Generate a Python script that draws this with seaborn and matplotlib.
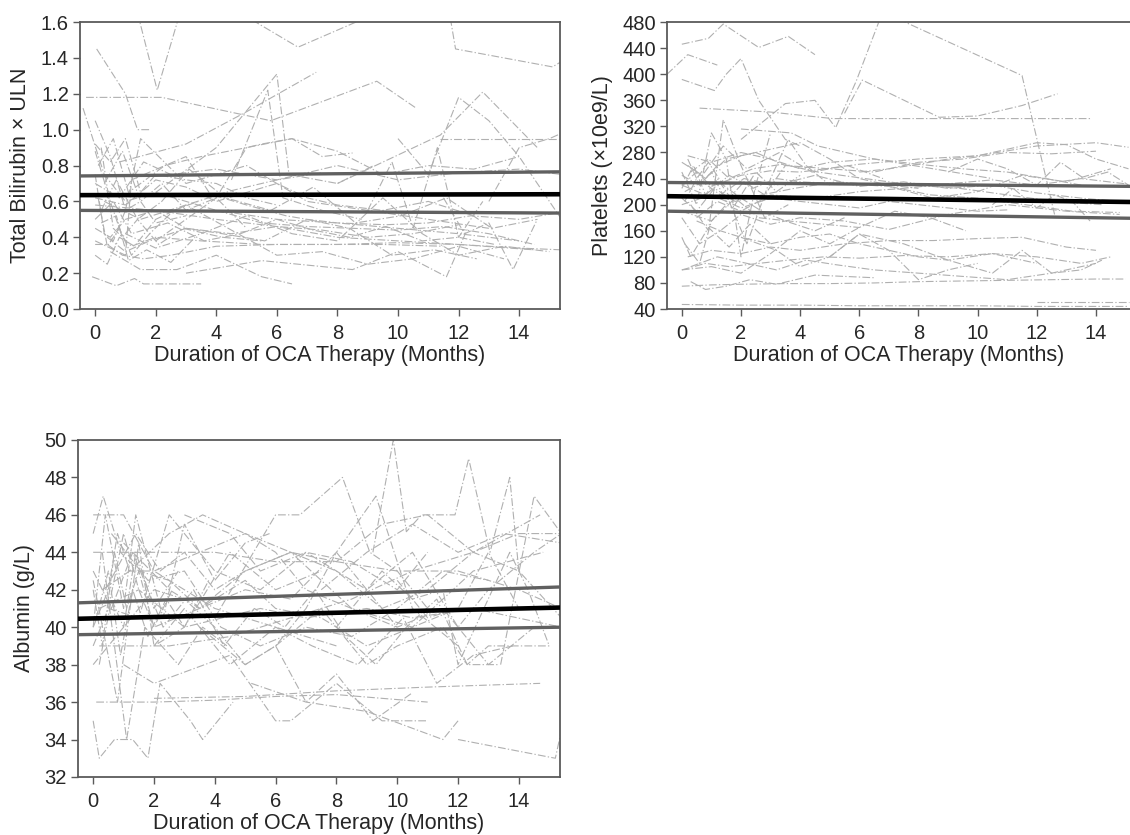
import numpy as np
import pandas as pd
import matplotlib
matplotlib.use("Agg")
import matplotlib.pyplot as plt
import seaborn as sns

# ---------------- data ----------------
bili_t = [
    [1.4, 2.05, 2.8],
    [0.05, 1.0, 1.4, 1.8],
    [-0.3, 2.2, 5.8, 9.3, 10.6],
    [4.8, 6.7, 9.3, 11.7, 11.9, 15.1, 15.4],
    [0.8, 3.0, 5.0, 7.3],
    [2.0, 4.0, 6.0, 6.4, 8.0, 9.2],
    [4.5, 5.7, 6.2, 7.5, 8.8],
    [8.0, 11.4, 12.8, 14.6],
    [11.4, 15.3],
    [-0.4, 0.3, 1.0, 2.0, 4.0, 6.0, 8.0, 10.0, 12.0, 14.0],
    [0.0, 0.5, 1.0, 1.5, 3.0, 5.0, 7.0, 9.0, 11.0, 13.0],
    [0.2, 0.6, 1.2, 2.0, 3.5, 5.5, 7.5, 9.5, 11.5],
    [0.0, 0.4, 0.9, 1.6, 2.5, 4.0, 6.0, 8.0, 10.0, 12.0, 14.5],
    [-0.1, 0.7, 1.3, 1.6, 2.4, 3.5],
    [0.5, 1.5, 2.7, 4.0, 5.5, 6.5],
    [3.0, 5.5, 8.5, 10.0, 11.6, 12.3],
    [0.0, 1.0, 2.0, 3.0, 4.0, 5.0, 6.0, 7.0, 8.0, 9.5, 11.0, 12.5],
    [0.1, 0.6, 1.1, 2.3, 3.5, 5.0, 6.5, 8.0, 9.5, 11.0, 12.5, 14.0],
    [0.0, 0.5, 1.0, 2.0, 3.0, 4.5, 6.0, 7.5, 9.0, 10.5, 12.0],
    [0.2, 0.7, 1.4, 2.2, 3.1, 4.3, 5.8, 7.2, 8.6, 10.1, 11.6, 13.1, 14.6],
    [0.0, 0.8, 1.6, 2.5, 4.0, 6.0, 8.0, 10.0, 12.0, 14.0, 15.4],
    [0.4, 1.0, 1.8, 3.0, 4.2, 5.6, 7.0, 8.4, 9.8, 11.2, 12.6],
    [0.0, 0.6, 1.2, 2.4, 3.6, 4.8, 6.0, 7.2, 8.4, 9.6, 10.8, 12.0, 13.2],
    [1.0, 2.0, 3.5, 5.0, 6.5, 8.0, 9.5, 10.8, 12.0, 13.5, 15.0],
    [0.3, 1.5, 3.0, 4.5, 6.0, 7.5, 9.0, 10.5, 12.0, 13.5],
    [11.5, 12.2, 13.0, 13.8, 14.6],
    [9.0, 9.8, 10.5, 11.3, 12.0, 12.8],
    [0.0, 0.5, 1.0, 1.5, 2.0, 3.0, 4.0, 5.0, 6.0],
    [2.0, 3.0, 4.0, 5.0, 5.5, 6.5, 7.5, 8.5],
    [0.0, 1.0, 1.2, 3.0, 3.8, 5.0, 6.3, 7.0, 8.0, 9.6, 11.0, 12.4, 14.0, 15.4],
    [4.0, 5.5, 7.0, 8.5, 10.0, 11.5, 13.0, 14.5],
    [0.0, 2.0, 4.0, 6.0, 8.0, 10.0, 12.0, 14.0, 15.4],
    [13.0, 14.0, 15.0, 15.4],
    [10.0, 11.0, 12.0, 13.0, 14.0, 15.4],
    [0.0, 0.3, 0.6, 1.0, 1.5, 2.0, 3.0],
    [0.1, 0.4, 0.8, 1.2, 1.8, 2.6, 3.4],
    [0.0, 0.5, 0.9, 1.4, 2.1, 2.9, 4.2, 5.5],
    [0.2, 0.7, 1.1, 1.7, 2.5, 3.3],
    [0.0, 0.4, 0.8, 1.3, 2.0, 3.0, 4.5, 6.0, 7.5],
    [0.3, 0.9, 1.5, 2.2, 3.0, 4.0, 5.0],
]
bili_v = [
    [1.65, 1.22, 1.65],
    [1.45, 1.2, 1.0, 1.0],
    [1.18, 1.18, 1.05, 1.27, 1.12],
    [1.65, 1.46, 1.65, 1.65, 1.45, 1.35, 1.38],
    [0.82, 0.92, 1.1, 1.32],
    [0.65, 0.9, 1.31, 0.75, 0.7, 0.8],
    [0.72, 1.22, 0.62, 0.55, 0.5],
    [0.7, 0.97, 1.21, 0.9],
    [0.95, 0.95],
    [1.12, 0.75, 0.6, 0.65, 0.55, 0.5, 0.48, 0.45, 0.42, 0.38],
    [1.05, 0.85, 0.55, 0.95, 0.7, 0.8, 0.6, 0.55, 0.5, 0.45],
    [0.9, 0.45, 0.35, 0.4, 0.38, 0.36, 0.36, 0.36, 0.35],
    [0.36, 0.36, 0.3, 0.28, 0.3, 0.35, 0.36, 0.36, 0.37, 0.36, 0.33],
    [0.18, 0.13, 0.17, 0.14, 0.14, 0.14],
    [0.32, 0.22, 0.22, 0.3, 0.18, 0.14],
    [0.2, 0.27, 0.22, 0.32, 0.18, 0.45],
    [0.62, 0.58, 0.72, 0.68, 0.6, 0.65, 0.7, 0.62, 0.58, 0.55, 0.6, 0.52],
    [0.8, 0.95, 0.65, 0.8, 0.85, 0.9, 0.95, 0.88, 0.75, 0.8, 0.78, 0.85],
    [0.45, 0.4, 0.5, 0.55, 0.45, 0.42, 0.46, 0.44, 0.4, 0.42, 0.47],
    [0.55, 0.72, 0.5, 0.6, 0.78, 0.62, 0.55, 0.68, 0.48, 0.52, 0.62, 0.45, 0.5],
    [0.7, 0.62, 0.82, 0.75, 0.78, 0.72, 0.8, 0.72, 0.76, 0.78, 0.75],
    [0.4, 0.32, 0.38, 0.45, 0.42, 0.38, 0.5, 0.45, 0.3, 0.33, 0.28],
    [0.5, 0.6, 0.42, 0.48, 0.38, 0.42, 0.5, 0.44, 0.4, 0.46, 0.38, 0.4, 0.36],
    [0.42, 0.34, 0.42, 0.52, 0.42, 0.38, 0.62, 0.42, 0.3, 0.35, 0.32],
    [0.6, 0.5, 0.58, 0.44, 0.3, 0.32, 0.25, 0.28, 0.35, 0.28],
    [0.62, 0.42, 0.48, 0.22, 0.5],
    [0.55, 0.82, 0.45, 0.9, 0.4, 0.6],
    [0.92, 0.82, 0.95, 0.65, 0.75, 0.72, 0.7, 0.62, 0.58],
    [0.38, 0.5, 0.62, 0.9, 0.92, 0.95, 0.85, 0.87],
    [0.38, 0.3, 0.72, 0.85, 0.64, 0.58, 0.52, 0.5, 0.48, 0.47, 0.48, 0.52, 0.5, 0.54],
    [0.55, 0.48, 0.46, 0.45, 0.44, 0.46, 0.42, 0.36],
    [0.58, 0.55, 0.5, 0.46, 0.4, 0.38, 0.36, 0.34, 0.33],
    [0.6, 0.9, 0.95, 0.98],
    [0.95, 0.75, 1.18, 1.05, 0.85, 0.5],
    [0.75, 0.42, 0.38, 0.55, 0.6, 0.48, 0.52],
    [0.62, 0.35, 0.45, 0.3, 0.42, 0.55, 0.6],
    [0.88, 0.6, 0.4, 0.5, 0.36, 0.45, 0.4, 0.38],
    [0.48, 0.52, 0.27, 0.33, 0.26, 0.4],
    [0.3, 0.25, 0.4, 0.35, 0.5, 0.58, 0.66, 0.72, 0.76],
    [0.7, 0.88, 0.6, 0.7, 0.55, 0.62, 0.45],
]

plt_t = [
    [0.0, 0.9, 1.4, 2.6, 3.6, 4.5],
    [2.0, 3.5, 4.5, 5.2, 5.9, 6.7, 7.3, 11.5, 12.6],
    [-0.5, 0.2, 1.2],
    [5.5, 6.1, 8.7, 10.0, 11.5, 12.7],
    [0.6, 3.0, 5.1, 13.8],
    [0.0, 1.1, 1.5, 2.0, 2.6, 3.5, 4.0],
    [2.0, 3.7, 4.6, 6.5, 8.5, 10.5],
    [0.0, 0.5, 1.0, 2.0, 3.0, 4.0, 6.0, 8.0, 10.0, 12.0, 14.0, 15.1],
    [0.2, 0.8, 1.5, 2.5, 3.5, 5.0, 6.5, 8.0, 9.5, 11.0, 12.5, 14.0],
    [0.0, 0.6, 1.2, 2.0, 3.0, 4.0, 5.0, 6.0, 7.0, 8.0],
    [0.1, 0.7, 1.3, 2.1, 3.2, 4.5, 6.0, 7.5, 9.0, 10.5, 12.0, 13.5, 14.8],
    [0.0, 1.0, 2.0, 3.0, 4.0, 5.0, 6.0, 7.0, 8.0, 9.0, 10.0, 11.0],
    [0.3, 0.9, 1.6, 2.4, 3.4, 4.6, 6.2, 7.8, 9.4, 11.0, 12.6, 14.2],
    [0.0, 0.5, 1.1, 1.8, 2.7, 3.8, 5.2, 6.8, 8.4, 10.0, 11.6, 13.2, 14.8],
    [0.2, 1.0, 2.0, 3.0, 4.0, 5.0, 6.5, 8.0, 9.5, 11.0, 12.3, 13.5],
    [0.0, 0.8, 1.6, 2.4, 3.2, 4.0, 5.5, 7.0, 8.5, 10.0, 11.5, 13.0, 14.5],
    [0.5, 1.2, 2.0, 3.0, 4.5, 6.0, 7.5, 9.0, 10.5, 12.0, 13.5, 15.0],
    [0.0, 0.7, 1.4, 2.2, 3.3, 4.4, 5.6, 6.8],
    [9.0, 10.0, 11.0, 12.0, 12.8, 13.6, 14.4, 15.1],
    [10.5, 11.2, 12.0, 12.6, 13.2, 13.8],
    [6.0, 7.0, 8.0, 9.0, 10.0, 11.0, 12.0, 13.0, 14.0, 15.1],
    [0.0, 1.0, 1.8, 2.6, 3.6, 4.8, 6.0, 7.2, 8.4, 9.6],
    [0.5, 1.3, 2.0, 3.0, 4.0, 5.5, 7.0, 9.0, 11.0, 13.0, 14.8],
    [0.0, 0.6, 1.3, 2.0, 3.0, 4.0, 5.0, 6.0, 7.0, 8.0, 9.0, 10.5, 12.0],
    [0.2, 1.0, 2.0, 3.0, 4.0, 5.5, 7.0, 8.5, 10.0, 11.5, 13.0, 14.0],
    [0.0, 0.8, 1.6, 2.6, 3.6, 4.8, 6.0, 7.5, 9.0, 10.5, 12.0, 13.5, 14.5],
    [0.3, 1.2, 2.2, 3.2, 4.2, 5.2, 6.5, 8.0, 9.5, 11.0, 12.5, 14.0],
    [0.0, 1.0, 2.0, 3.5, 5.0, 6.5, 8.0, 9.5, 11.0, 12.5, 14.0, 15.0],
    [0.3, 0.8, 1.5, 2.3, 3.2, 4.5, 6.5],
    [2.0, 3.2, 4.0, 5.0, 6.0, 7.0, 8.0, 9.0, 10.0],
    [5.0, 6.0, 7.5, 9.0, 10.5, 11.5, 12.5, 13.5, 14.2],
    [0.0, 2.0, 4.0, 6.0, 8.0, 10.0, 12.0, 14.0, 15.1],
    [12.0, 13.0, 14.0, 15.1],
    [0.1, 0.6, 1.0, 1.6, 2.2, 3.0, 3.6, 4.2, 5.0],
    [0.0, 0.5, 1.0, 1.5, 2.0, 2.5, 3.0],
    [0.3, 0.9, 1.4, 2.0, 2.8, 3.6],
    [0.0, 1.0, 2.0, 3.0, 4.0, 5.0, 6.0],
    [0.0, 0.4, 0.8, 1.2, 1.8, 2.5, 3.2, 4.0],
    [0.2, 0.6, 1.0, 1.5, 2.1, 2.8, 3.5],
    [0.1, 0.5, 0.9, 1.4, 2.0, 2.7, 3.5, 4.5, 5.5],
    [0.0, 0.3, 0.9, 1.6, 2.3, 3.0],
]
plt_v = [
    [446, 455, 477, 441, 458, 430],
    [300, 355, 360, 318, 390, 485, 485, 398, 185],
    [400, 430, 414],
    [340, 391, 334, 336, 352, 370],
    [348, 342, 332, 332],
    [392, 375, 400, 424, 360, 300, 290],
    [316, 310, 290, 270, 255, 240],
    [230, 250, 228, 245, 252, 250, 262, 270, 275, 290, 295, 288],
    [260, 240, 270, 280, 260, 255, 250, 265, 270, 280, 278, 282],
    [245, 230, 260, 275, 285, 295, 270, 240, 230, 225],
    [220, 235, 215, 240, 230, 245, 228, 235, 225, 230, 218, 210, 205],
    [200, 215, 195, 210, 205, 200, 195, 205, 200, 195, 190, 192],
    [250, 270, 240, 255, 262, 250, 240, 230, 225, 215, 205, 200],
    [210, 190, 225, 205, 215, 225, 235, 230, 215, 210, 200, 190, 188],
    [275, 265, 280, 270, 255, 265, 270, 262, 255, 250, 240, 230],
    [230, 215, 245, 225, 240, 235, 232, 228, 210, 220, 245, 235, 255],
    [180, 205, 190, 215, 210, 220, 225, 232, 238, 230, 240, 232],
    [265, 245, 290, 255, 280, 250, 260, 240],
    [250, 270, 255, 230, 265, 240, 250, 230],
    [200, 225, 195, 215, 205, 175],
    [250, 255, 262, 270, 275, 285, 295, 292, 270, 255],
    [190, 175, 210, 180, 175, 170, 165, 190, 180, 160],
    [175, 160, 185, 170, 180, 175, 162, 185, 200, 190, 185],
    [180, 140, 160, 150, 140, 150, 155, 140, 130, 120, 115, 125, 110],
    [120, 130, 125, 135, 130, 140, 145, 145, 148, 150, 135, 130],
    [100, 110, 105, 110, 115, 120, 118, 122, 120, 125, 120, 110, 120],
    [105, 120, 110, 100, 115, 108, 100, 95, 90, 85, 95, 110],
    [75, 77, 78, 79, 79, 80, 82, 83, 84, 85, 86, 86],
    [82, 70, 75, 85, 78, 92, 88],
    [150, 130, 105, 120, 155, 130, 85, 100, 110],
    [120, 155, 140, 115, 95, 130, 95, 100, 115],
    [47, 46, 46, 45, 45, 45, 44, 44, 44],
    [51, 51, 51, 51],
    [140, 110, 175, 205, 140, 240, 300, 260, 230],
    [250, 200, 310, 270, 120, 230, 310],
    [200, 160, 330, 260, 180, 200],
    [100, 105, 95, 125, 160, 140, 165],
    [225, 260, 215, 240, 200, 250, 220, 245],
    [270, 230, 250, 205, 235, 215, 260],
    [205, 240, 265, 230, 210, 190, 175, 160, 180],
    [150, 120, 165, 135, 170, 140],
]

alb_t = [
    [9.2, 9.87, 10.3, 10.8, 11.9, 12.35, 13.05, 13.7, 14.0],
    [4.0, 6.0, 6.8, 8.2, 9.1, 10.0, 11.0],
    [0.0, 0.33, 0.9, 1.5, 2.5, 3.5, 5.0, 6.5, 8.0, 9.3, 10.5, 12.0],
    [0.0, 0.5, 0.8, 1.2, 2.0, 3.0, 4.0, 5.0, 6.0, 7.0, 8.0],
    [12.0, 15.2, 15.4],
    [0.1, 2.0, 4.0, 6.0, 8.0, 11.0],
    [2.0, 5.0, 8.0, 11.0, 14.7],
    [5.2, 7.0, 9.0, 11.5, 12.0],
    [0.0, 0.2, 0.7, 1.3, 1.8, 2.2, 3.2, 3.6, 4.6],
    [1.0, 2.0, 4.5, 6.0, 6.5, 8.0, 9.5, 11.0],
    [13.4, 14.5, 15.4],
    [0.0, 2.0, 4.0, 6.0, 8.0, 10.0, 12.0, 14.0, 15.4],
    [0.2, 1.0, 2.5, 4.5, 6.5, 8.5, 10.5, 12.5, 14.7],
    [0.0, 1.0, 2.0, 3.5, 5.0, 6.5, 8.0, 9.5, 11.0, 12.5, 14.0, 15.4],
    [0.3, 1.2, 2.5, 3.6, 5.0, 6.0, 7.0, 8.5, 10.0, 11.5, 13.0, 14.5],
    [0.5, 1.5, 2.5, 3.0, 4.0, 5.5, 7.0, 9.0, 10.5, 12.0, 13.0, 14.5, 15.4],
    [0.0, 0.6, 1.3, 2.3, 3.3, 4.3, 5.3, 6.3, 7.3, 8.3, 9.3, 10.3, 11.3, 12.3, 13.3],
    [0.0, 1.0, 2.0, 3.0, 4.0, 5.0, 6.0, 7.0, 8.0, 9.0, 10.0],
    [1.0, 2.5, 3.5, 5.0, 6.0, 7.5, 9.0, 10.5, 12.0],
    [0.4, 1.4, 2.2, 3.0, 4.0, 5.0, 6.5, 8.0, 9.5, 11.0, 12.5, 14.0, 15.4],
    [6.0, 7.5, 9.0, 10.0, 11.5, 12.3, 13.0, 14.0, 15.0],
    [8.0, 9.5, 10.5, 11.5, 12.0, 13.7, 14.3, 15.0],
    [0.0, 0.8, 1.5, 2.0, 3.0, 4.5, 6.0, 7.5],
    [0.3, 1.1, 1.7, 2.8, 3.6, 4.4],
    [3.0, 4.5, 5.5, 7.0, 8.5, 10.0, 11.0],
    [0.0, 0.5, 1.0, 1.5, 2.0, 3.5, 5.0, 6.5, 8.5, 10.5, 12.5, 14.8],
    [10.0, 11.0, 12.0, 13.0, 14.0],
    [0.6, 1.8, 3.0, 4.2, 5.5, 7.0, 8.5, 10.0, 11.5, 13.0],
    [2.0, 3.0, 4.5, 6.0, 7.2, 8.7, 10.2, 11.3, 12.5, 13.8],
    [0.2, 1.5, 3.0, 5.5, 7.0, 9.0, 10.5, 12.5, 15.4],
    [7.5, 9.0, 10.5, 12.0, 13.5, 15.4],
    [0.0, 0.4, 1.0, 1.4, 2.3, 3.0, 4.0, 5.0, 5.8],
    [3.5, 5.0, 6.0, 7.0, 8.0, 9.2, 10.5],
    [0.0, 0.3, 0.7, 1.1, 1.5, 2.0, 2.6],
    [0.1, 0.5, 0.9, 1.3, 1.8, 2.4, 3.0, 3.8],
    [0.2, 0.6, 1.0, 1.4, 2.0, 2.8],
]
alb_v = [
    [44.0, 50.0, 45.1, 46.0, 46.0, 49.0, 44.0, 48.0, 43.0],
    [40.5, 46.0, 46.0, 48.0, 44.0, 43.0, 41.0],
    [45.0, 47.0, 44.0, 43.0, 42.5, 41.0, 42.0, 41.5, 44.0, 47.0, 41.0, 39.0],
    [40.0, 42.0, 45.0, 43.0, 43.0, 42.0, 41.0, 40.5, 40.0, 39.5, 39.0],
    [34.0, 33.0, 34.5],
    [36.0, 36.0, 36.1, 36.3, 36.4, 36.0],
    [36.2, 36.3, 36.6, 36.8, 37.0],
    [37.0, 36.0, 35.5, 34.0, 35.0],
    [35.0, 33.0, 34.0, 34.0, 33.0, 37.0, 35.0, 34.0, 36.0],
    [38.0, 37.0, 38.5, 35.0, 35.0, 37.0, 35.0, 35.0],
    [38.0, 47.0, 45.0],
    [44.0, 44.0, 44.0, 43.5, 43.5, 43.0, 43.0, 42.0, 41.0],
    [39.0, 39.0, 39.0, 39.5, 40.5, 41.5, 43.0, 44.0, 46.0],
    [46.0, 46.0, 43.0, 44.0, 45.0, 44.0, 43.5, 45.5, 46.0, 44.0, 45.0, 45.0],
    [42.0, 43.0, 45.0, 46.0, 45.0, 44.0, 42.0, 41.0, 40.0, 41.0, 38.0, 40.0],
    [41.0, 40.5, 46.0, 45.0, 43.0, 42.0, 44.0, 42.0, 44.0, 40.0, 42.0, 44.0, 45.0],
    [43.0, 41.0, 44.0, 40.0, 42.0, 39.0, 41.0, 40.0, 42.0, 39.5, 38.0, 40.0, 41.5, 38.0, 38.0],
    [38.0, 40.0, 42.0, 41.5, 40.0, 38.0, 39.0, 41.0, 44.0, 42.0, 40.0],
    [44.5, 42.0, 41.0, 42.5, 41.0, 40.5, 39.0, 40.0, 41.0],
    [42.0, 45.0, 43.0, 44.0, 42.0, 43.0, 44.0, 43.0, 41.0, 42.0, 44.0, 43.0, 40.5],
    [39.0, 41.0, 38.0, 39.0, 40.0, 38.0, 39.0, 39.0, 39.0],
    [40.0, 43.0, 41.5, 42.0, 38.0, 44.0, 42.0, 39.0],
    [42.5, 36.0, 44.5, 39.0, 40.0, 44.0, 42.0, 43.0],
    [44.0, 34.0, 40.0, 38.0, 40.0, 39.0],
    [46.0, 45.0, 43.0, 44.0, 43.5, 42.0, 44.0],
    [39.0, 41.0, 45.0, 42.0, 40.0, 41.0, 43.0, 44.0, 41.0, 40.0, 43.0, 44.0],
    [42.5, 40.5, 41.0, 44.0, 41.0],
    [45.0, 42.5, 43.0, 40.0, 39.0, 40.0, 39.5, 41.0, 43.0, 42.5],
    [39.0, 41.0, 38.0, 40.0, 39.0, 38.0, 40.5, 37.0, 38.5, 39.0],
    [41.0, 42.0, 40.0, 41.0, 40.5, 41.0, 40.5, 41.0, 40.0],
    [42.0, 44.0, 45.5, 44.0, 45.0, 44.5],
    [40.0, 46.0, 41.0, 46.0, 40.5, 45.5, 42.5, 44.5, 45.0],
    [40.0, 38.0, 39.0, 36.0, 37.5, 35.0, 36.5],
    [42.0, 39.0, 44.0, 41.0, 43.0, 40.0, 42.0],
    [40.5, 43.0, 38.5, 42.0, 39.5, 41.5, 40.0, 42.5],
    [38.0, 41.5, 40.0, 44.0, 41.0, 43.0],
]

# fitted mean trend and confidence band (values at the two x ends)
fit_x = [-0.5, 15.4]
bili_fit = [0.635, 0.640]
bili_upper = [0.742, 0.765]
bili_lower = [0.550, 0.535]
plt_fit = [213, 204]
plt_upper = [234, 228]
plt_lower = [190, 179]
alb_fit = [40.45, 41.05]
alb_upper = [41.30, 42.15]
alb_lower = [39.60, 40.00]

x_ticks = [0, 2, 4, 6, 8, 10, 12, 14]
bili_ticks = [0.0, 0.2, 0.4, 0.6, 0.8, 1.0, 1.2, 1.4, 1.6]
plt_ticks = [40, 80, 120, 160, 200, 240, 280, 320, 360, 400, 440, 480]
alb_ticks = [32, 34, 36, 38, 40, 42, 44, 46, 48, 50]

x_label = "Duration of OCA Therapy (Months)"
bili_label = "Total Bilirubin \u00d7 ULN"
plt_label = "Platelets (\u00d710e9/L)"
alb_label = "Albumin (g/L)"

# ---------------- style ----------------
sns.set_style("white")
plt.rcParams["font.family"] = ["Liberation Sans", "DejaVu Sans"]
TICK_FS = 14.5
XLAB_FS = 15.5
YLAB_FS = 15.5
SPINE = "#5a5a5a"


def long_form(ts, vs):
    rows = []
    for i, (t, v) in enumerate(zip(ts, vs)):
        for a, b in zip(t, v):
            rows.append((i, a, b))
    return pd.DataFrame(rows, columns=["pid", "t", "v"])


def panel(ax, ts, vs, fit, up, lo, yticks, ylabel, xlim, ylim, fmt, right_spine=True):
    df = long_form(ts, vs)
    sns.lineplot(data=df, x="t", y="v", units="pid", estimator=None, ax=ax,
                 color="#b0b0b0", lw=0.8, linestyle=(0, (7, 2, 1.2, 2)),
                 legend=False, zorder=1)
    fdf = pd.DataFrame({"x": fit_x * 3,
                        "y": list(up) + list(lo) + list(fit),
                        "k": ["u", "u", "l", "l", "f", "f"]})
    sns.lineplot(data=fdf[fdf.k == "u"], x="x", y="y", ax=ax, color="#606060", lw=2.4, zorder=3)
    sns.lineplot(data=fdf[fdf.k == "l"], x="x", y="y", ax=ax, color="#606060", lw=2.4, zorder=3)
    sns.lineplot(data=fdf[fdf.k == "f"], x="x", y="y", ax=ax, color="#000000", lw=3.3, zorder=4)
    ax.set_xlim(*xlim)
    ax.set_ylim(*ylim)
    ax.set_xticks(x_ticks)
    ax.set_yticks(yticks)
    ax.set_yticklabels([fmt.format(v) for v in yticks])
    ax.set_xlabel(x_label, fontsize=XLAB_FS, labelpad=1)
    ax.set_ylabel(ylabel, fontsize=YLAB_FS, labelpad=7)
    ax.tick_params(axis="both", which="both", labelsize=TICK_FS, direction="out",
                   length=5, width=1.0, color=SPINE,
                   bottom=True, left=True, top=False, right=False)
    ax.tick_params(axis="x", pad=6)
    ax.tick_params(axis="y", pad=3)
    for s in ["left", "bottom", "top", "right"]:
        ax.spines[s].set_color(SPINE)
        ax.spines[s].set_linewidth(1.3)
    if not right_spine:
        ax.spines["right"].set_visible(False)
    ax.grid(False)


fig = plt.figure(figsize=(11.3, 8.35), dpi=100)
ax1 = fig.add_axes([0.0708, 0.6299, 0.4248, 0.3437])
ax2 = fig.add_axes([0.5903, 0.6299, 0.4097, 0.3437])
ax3 = fig.add_axes([0.0690, 0.0695, 0.4265, 0.4036])

panel(ax1, bili_t, bili_v, bili_fit, bili_upper, bili_lower, bili_ticks,
      bili_label, (-0.5, 15.35), (0.0, 1.6), "{:.1f}")
panel(ax2, plt_t, plt_v, plt_fit, plt_upper, plt_lower, plt_ticks,
      plt_label, (-0.5, 15.15), (40, 480), "{:d}", right_spine=False)
panel(ax3, alb_t, alb_v, alb_fit, alb_upper, alb_lower, alb_ticks,
      alb_label, (-0.5, 15.35), (32, 50), "{:d}")

fig.savefig("out.png", dpi=100, facecolor="white")
